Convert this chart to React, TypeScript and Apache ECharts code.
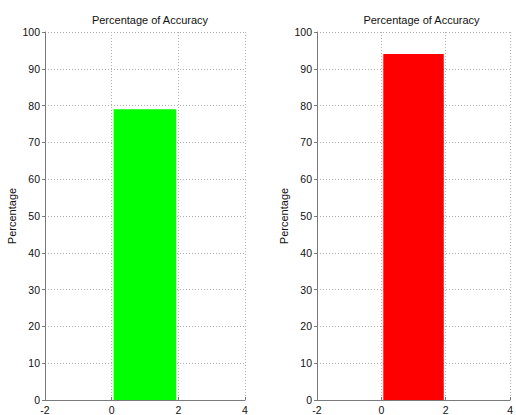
import React, { useEffect, useRef } from "react";
import * as echarts from "echarts";

// Each panel shows one accuracy bar spanning the interval [barStart, barEnd]
const panelTitles = ["Percentage of Accuracy", "Percentage of Accuracy"];
const accuracy = [79, 94];
const barColors = ["#00ff00", "#ff0000"];
const barStart = 0.06;
const barEnd = 1.94;
const xTicks = [-2, 0, 2, 4];
const yTicks = [0, 10, 20, 30, 40, 50, 60, 70, 80, 90, 100];

const FONT = "'Liberation Sans', Arial, Helvetica, sans-serif";
const GRID_LINE = { type: [1, 2] as number[], color: "#b0b0b0", width: 1 };

export default function App() {
  const ref = useRef<HTMLDivElement>(null);

  useEffect(() => {
    if (!ref.current) return;
    const chart = echarts.init(ref.current, null, { renderer: "svg" });

    const grids = [
      { left: 45, top: 32, width: 200, height: 370 },
      { left: 317, top: 32, width: 199, height: 370 },
    ];

    const xAxes = grids.map((_, i) => ({
      type: "value" as const,
      gridIndex: i,
      min: xTicks[0],
      max: xTicks[xTicks.length - 1],
      interval: 2,
      axisLine: { show: true, onZero: false, lineStyle: { color: "#7a7a7a", width: 1 } },
      axisTick: { show: true, inside: true, length: 3, lineStyle: { color: "#7a7a7a" } },
      axisLabel: { color: "#111", fontFamily: FONT, fontSize: 10.5, margin: 4 },
      splitLine: { show: true, lineStyle: GRID_LINE },
    }));

    const yAxes = grids.map((_, i) => ({
      type: "value" as const,
      gridIndex: i,
      min: yTicks[0],
      max: yTicks[yTicks.length - 1],
      interval: 10,
      name: "Percentage",
      nameLocation: "middle" as const,
      nameGap: 28,
      nameTextStyle: { color: "#111", fontFamily: FONT, fontSize: 11 },
      axisLine: { show: true, onZero: false, lineStyle: { color: "#7a7a7a", width: 1 } },
      axisTick: { show: true, inside: false, length: 3, lineStyle: { color: "#7a7a7a" } },
      axisLabel: { color: "#111", fontFamily: FONT, fontSize: 10.5, margin: 5 },
      splitLine: { show: true, lineStyle: GRID_LINE },
    }));

    const series = accuracy.map((value, i) => ({
      type: "custom" as const,
      xAxisIndex: i,
      yAxisIndex: i,
      data: [[barStart, barEnd, value]],
      encode: { x: [0, 1], y: 2 },
      renderItem: (_params: any, api: any) => {
        const p0 = api.coord([api.value(0), api.value(2)]);
        const p1 = api.coord([api.value(1), 0]);
        return {
          type: "rect",
          shape: { x: p0[0], y: p0[1], width: p1[0] - p0[0], height: p1[1] - p0[1] },
          style: { fill: barColors[i] },
        };
      },
      z: 3,
    }));

    chart.setOption({
      animation: false,
      backgroundColor: "#ffffff",
      title: panelTitles.map((text, i) => ({
        text,
        left: grids[i].left + grids[i].width / 2,
        top: 9,
        textAlign: "center",
        textStyle: { color: "#111", fontFamily: FONT, fontSize: 11, fontWeight: "normal" },
      })),
      grid: grids,
      xAxis: xAxes,
      yAxis: yAxes,
      series,
    });

    return () => chart.dispose();
  }, []);

  return (
    <div
      ref={ref}
      style={{ position: "fixed", left: 0, top: 0, width: 516, height: 415, background: "#fff" }}
    />
  );
}
